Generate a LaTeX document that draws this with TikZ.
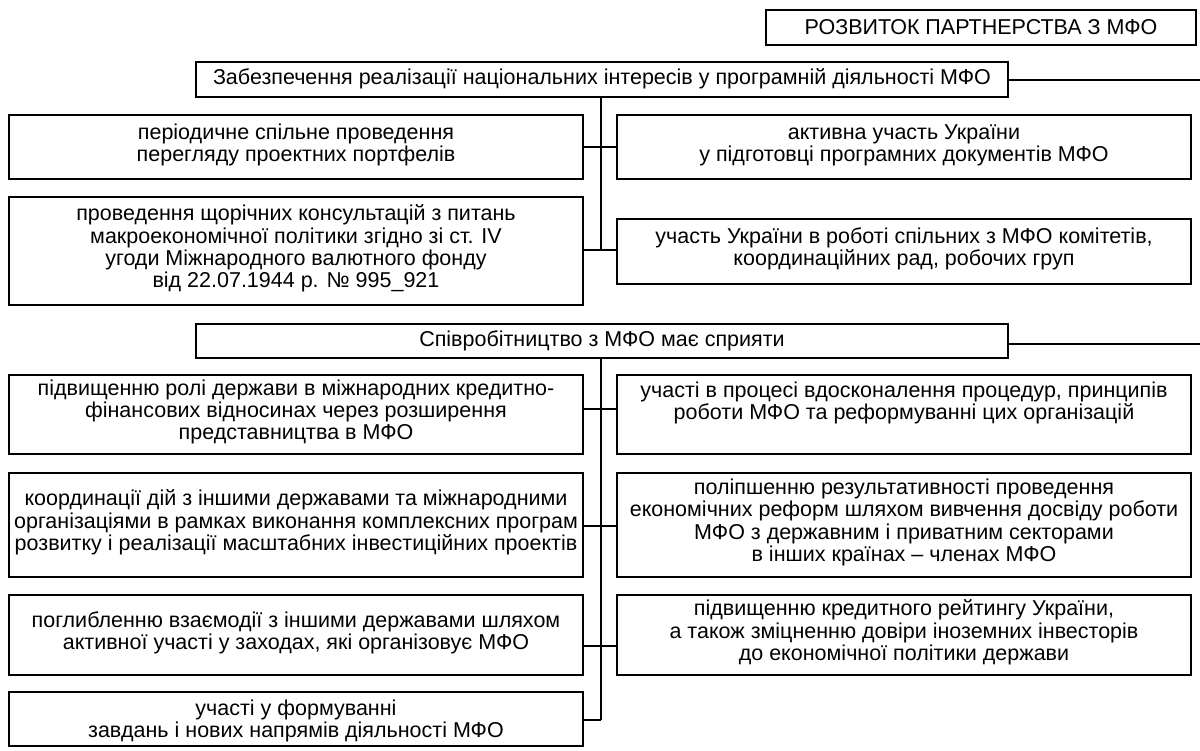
\documentclass[tikz,border=0pt]{standalone}
\usepackage{fontspec}
\setmainfont{Liberation Sans}
\begin{document}
\begin{tikzpicture}[x=1pt,y=-1pt,
  box/.style={draw, line width=1.7pt, inner sep=0pt},
  txt/.style={inner sep=0pt, align=center, font=\fontsize{21.5}{22.3}\selectfont},
  conn/.style={line width=1.7pt}]
\useasboundingbox (0,0) rectangle (1200,751);
\newcommand{\bx}[7]{% name, x1,y1,x2,y2, text shift, text
  \node[box, minimum width={#4-#2}, minimum height={#5-#3}] (#1) at ({(#2+#4)/2},{(#3+#5)/2}) {};
  \node[txt] (#1-t) at ([yshift=#6]#1.center) {#7};}
\bx{title}{766}{10}{1196}{45}{0.5pt}{РОЗВИТОК ПАРТНЕРСТВА З МФО}
\bx{A}{196}{62}{1008}{97}{0.5pt}{Забезпечення реалізації національних інтересів у програмній діяльності МФО}
\bx{LA1}{9}{115}{583}{179}{2pt}{періодичне спільне проведення\\перегляду проектних портфелів}
\bx{RA1}{617}{115}{1191}{179}{2pt}{активна участь України\\у підготовці програмних документів МФО}
\bx{LA2}{9}{197}{583}{305}{2.5pt}{проведення щорічних консультацій з питань\\макроекономічної політики згідно зі ст. IV\\угоди Міжнародного валютного фонду\\від 22.07.1944 р. № 995\_921}
\bx{RA2}{617}{219}{1191}{284}{2.5pt}{участь України в роботі спільних з МФО комітетів,\\координаційних рад, робочих груп}
\bx{B}{196}{324}{1008}{358}{0.5pt}{Співробітництво з МФО має сприяти}
\bx{LB1}{9}{375}{583}{454}{2.5pt}{підвищенню ролі держави в міжнародних кредитно-\\фінансових відносинах через розширення\\представництва в МФО}
\bx{RB1}{617}{375}{1191}{454}{2.5pt}{участі в процесі вдосконалення процедур, принципів\\роботи МФО та реформуванні цих організацій\\\mbox{}}
\bx{LB2}{9}{473}{583}{577}{2.5pt}{координації дій з іншими державами та міжнародними\\організаціями в рамках виконання комплексних програм\\розвитку і реалізації масштабних інвестиційних проектів}
\bx{RB2}{617}{473}{1191}{577}{2.5pt}{поліпшенню результативності проведення\\економічних реформ шляхом вивчення досвіду роботи\\МФО з державним і приватним секторами\\в інших країнах – членах МФО}
\bx{LB3}{9}{595}{583}{675}{2.5pt}{поглибленню взаємодії з іншими державами шляхом\\активної участі у заходах, які організовує МФО}
\bx{RB3}{617}{595}{1191}{675}{2.5pt}{підвищенню кредитного рейтингу України,\\а також зміцненню довіри іноземних інвесторів\\до економічної політики держави}
\bx{LB4}{9}{692}{583}{746}{-2pt}{участі у формуванні\\завдань і нових напрямів діяльності МФО}
% outer right connectors
\coordinate (eA) at (1200,80);
\coordinate (eB) at (1200,344);
\draw[conn] (A.east |- eA) -- (eA);
\draw[conn] (B.east |- eB) -- (eB);
% section A spine
\coordinate (sA1) at (601,147);
\coordinate (sA2) at (601,250);
\draw[conn] (A.south -| sA1) -- (sA2);
\draw[conn] (LA1.east |- sA1) -- (RA1.west |- sA1);
\draw[conn] (LA2.east |- sA2) -- (RA2.west |- sA2);
% section B spine
\coordinate (sB1) at (601,409);
\coordinate (sB2) at (601,526);
\coordinate (sB3) at (601,646);
\coordinate (sB4) at (601,720);
\draw[conn] (B.south -| sB1) -- (sB4);
\draw[conn] (LB1.east |- sB1) -- (RB1.west |- sB1);
\draw[conn] (LB2.east |- sB2) -- (RB2.west |- sB2);
\draw[conn] (LB3.east |- sB3) -- (RB3.west |- sB3);
\draw[conn] (LB4.east |- sB4) -- (sB4);
\end{tikzpicture}
\end{document}
